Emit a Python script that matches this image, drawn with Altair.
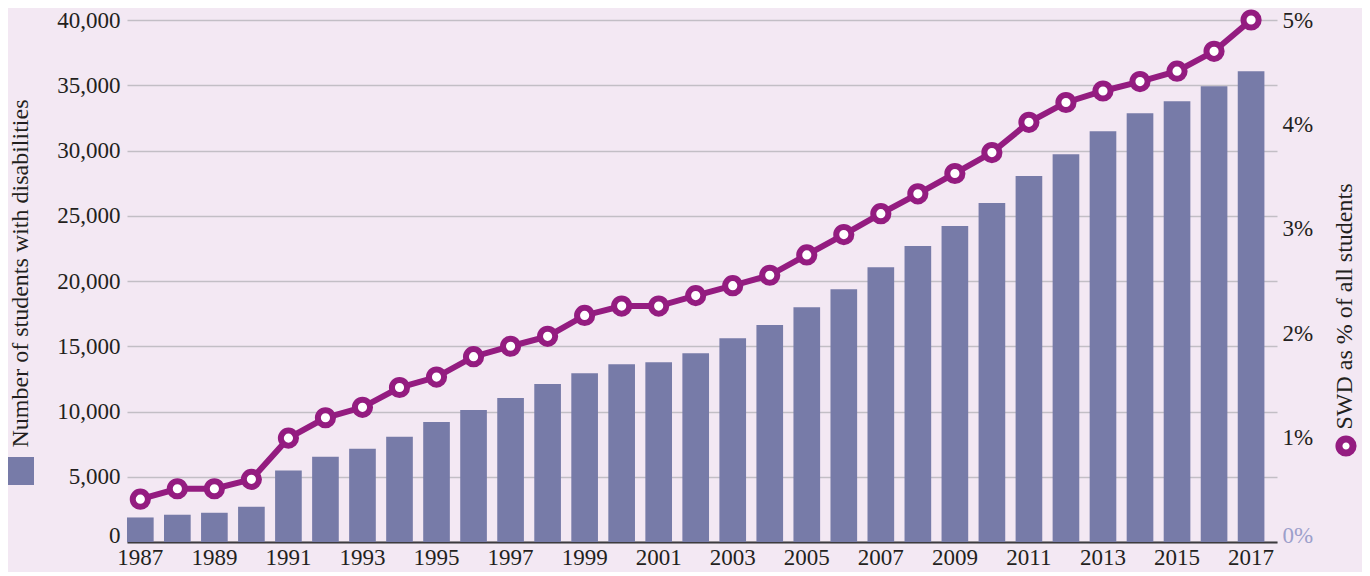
import altair as alt
import pandas as pd

years = list(range(1987, 2018))
students = [1880, 2090, 2240, 2700, 5480, 6530, 7140, 8060, 9200, 10120,
            11030, 12100, 12940, 13630, 13780, 14470, 15620, 16620, 17990, 19370,
            21060, 22680, 24210, 25970, 28040, 29720, 31480, 32860, 33780, 34920,
            36070]
swd_pct = [0.41, 0.51, 0.51, 0.60, 0.995, 1.19, 1.29, 1.48, 1.58, 1.775,
           1.875, 1.97, 2.17, 2.26, 2.26, 2.36, 2.455, 2.555, 2.75, 2.945,
           3.145, 3.335, 3.53, 3.73, 4.02, 4.21, 4.32, 4.41, 4.51, 4.70,
           5.0]
left_ticks = [0, 5000, 10000, 15000, 20000, 25000, 30000, 35000, 40000]
right_ticks = [0, 1, 2, 3, 4, 5]
left_title = "Number of students with disabilities"
right_title = "SWD as % of all students"

df = pd.DataFrame({
    "year": years,
    "students": students,
    "pct": swd_pct,
    "s1": left_title,
    "s2": right_title,
})

FONT = "Liberation Serif"
TXT = "#231F20"
BAR = "#777BA8"
PURPLE = "#941C80"
BG = "#F3E8F3"
GRID = "#C2BEC5"

x_enc = alt.X(
    "year:O",
    scale=alt.Scale(paddingInner=0.28, paddingOuter=0.17, align=0),
    axis=alt.Axis(
        title=None, labelAngle=0,
        labelExpr="datum.value % 2 == 1 ? datum.label : ''",
        ticks=False, grid=False, domainColor="#3D3B3E", domainWidth=2,
        labelPadding=4, labelFontSize=23, labelOverlap=False,
    ),
)

bars = alt.Chart(df).mark_bar().encode(
    x=x_enc,
    y=alt.Y(
        "students:Q",
        scale=alt.Scale(domain=[0, 40000], nice=False),
        axis=alt.Axis(
            orient="left", values=left_ticks, format=",.0f",
            title=left_title, titleAngle=270, titleX=-107, titleY=253,
            titleAlign="center", titleBaseline="middle", titleFontSize=24,
            grid=True, gridColor=GRID, gridWidth=1.5,
            domain=False, ticks=False, labelPadding=7, labelFontSize=23,
            labelBaseline={"condition": {"test": "datum.value == 0", "value": "alphabetic"}, "value": "middle"},
        ),
    ),
    fill=alt.Fill(
        "s1:N", scale=alt.Scale(range=[BAR]),
        legend=alt.Legend(
            orient="none", legendX=-121, legendY=437, title=None,
            labelExpr="''", symbolType="square", symbolSize=784,
            symbolStrokeWidth=0, padding=0, labelOffset=0,
        ),
    ),
)

line = alt.Chart(df).mark_line(color=PURPLE, strokeWidth=6).encode(
    x=x_enc,
    y=alt.Y(
        "pct:Q",
        scale=alt.Scale(domain=[0, 5], nice=False),
        axis=alt.Axis(
            orient="right", values=right_ticks, labelExpr="datum.value + '%'",
            title=right_title, titleAngle=270, titleX=67, titleY=286,
            titleAlign="center", titleBaseline="middle", titleFontSize=24,
            grid=False, domain=False, ticks=False, labelPadding=5, labelFontSize=23,
            labelBaseline={"condition": {"test": "datum.value == 0", "value": "alphabetic"}, "value": "middle"},
            labelColor={"condition": {"test": "datum.value == 0", "value": "#9C9FCB"}, "value": TXT},
        ),
    ),
)

points = alt.Chart(df).mark_point(
    fill="white", fillOpacity=1, opacity=1, strokeWidth=6, size=230
).encode(
    x=x_enc,
    y=alt.Y("pct:Q", scale=alt.Scale(domain=[0, 5], nice=False), axis=None),
    stroke=alt.Stroke(
        "s2:N", scale=alt.Scale(range=[PURPLE]),
        legend=alt.Legend(
            orient="none", legendX=1208, legendY=415, title=None,
            labelExpr="''", symbolType="circle", symbolSize=200,
            symbolStrokeWidth=7, symbolFillColor="white", padding=0, labelOffset=0,
        ),
    ),
)

chart = alt.layer(bars, line, points).resolve_scale(
    y="independent"
).properties(
    width=1150, height=522,
    autosize=alt.AutoSizeParams(type="none"),
    padding={"left": 119, "top": 12, "right": 85, "bottom": 30},
    background=BG,
).configure_view(
    strokeWidth=0
).configure_axis(
    labelFont=FONT, titleFont=FONT, labelColor=TXT, titleColor=TXT,
    titleFontWeight="normal",
).configure_legend(
    labelFont=FONT,
)

chart.save("out.html", embed_options={"renderer": "svg", "actions": False})
